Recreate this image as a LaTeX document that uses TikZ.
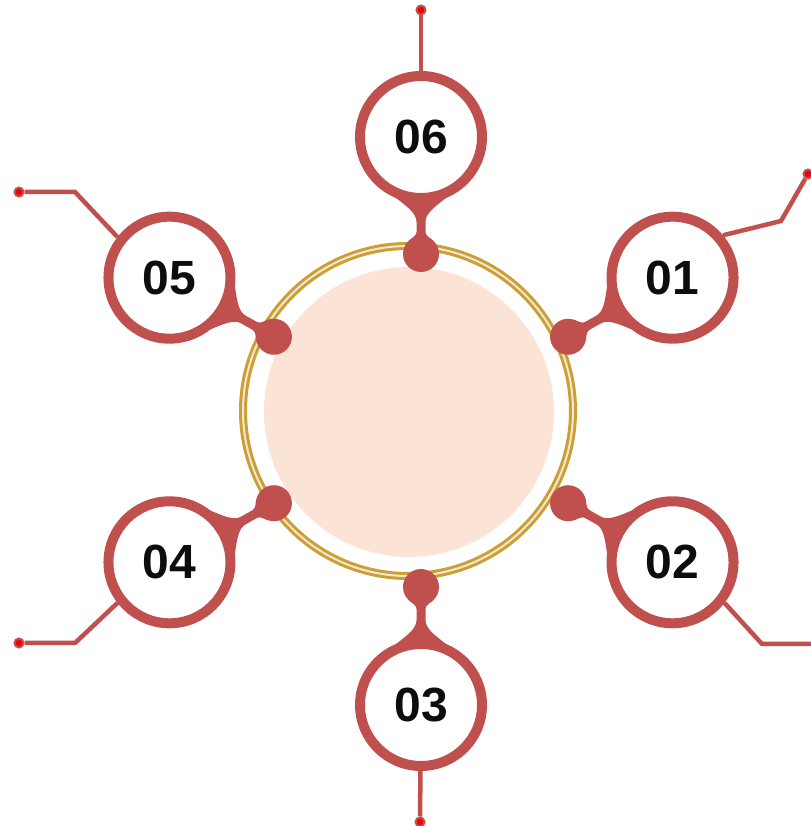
\documentclass[tikz,border=0pt]{standalone}
\usepackage{fontspec}
\setmainfont{Liberation Sans}
\usetikzlibrary{calc}

\definecolor{leadred}{HTML}{C0504D}
\definecolor{ringgold}{HTML}{C9A032}
\definecolor{peach}{HTML}{FBE4D6}
\definecolor{tipred}{HTML}{F00000}

\tikzset{
    numcircle/.style={circle, draw=leadred, line width=10pt, fill=white,
        minimum size=122pt, inner sep=0pt, text=black!95,
        font=\fontsize{48}{48}\selectfont\bfseries},
    hubdot/.style={circle, fill=leadred, minimum size=36pt, inner sep=0pt},
    tipdot/.style={circle, draw=leadred, fill=tipred, line width=2pt,
        minimum size=9pt, inner sep=0pt},
    lead/.style={leadred, line width=4.5pt, line join=miter},
}

\begin{document}
\begin{tikzpicture}[x=1pt, y=1pt]
    \useasboundingbox (0,0) rectangle (810,826);
    \coordinate (O) at (421,406);

    % Centre disc and gold ring
    \fill[peach] (409,414) circle (145);
    \draw[ringgold, line width=3pt, double=peach, double distance=2pt] (408,415) circle (165);

    % Necks, hub dots and numbered circles
    \foreach \ang/\dist/\h/\lbl in {29.5/289/169/01, -29.5/289/169/02, -90/285/167/03,
                                    -150.5/289/169/04, 150.5/289/169/05, 90/283/166/06} {
        \begin{scope}[shift={(O)}, rotate=\ang]
            \fill[leadred] (\h+12.9,12.5) .. controls (\h+16,9.5) and (\h+18,4.5) .. (\h+22,4.5)
                -- (\dist-85,4.5) .. controls (\dist-77,4.5) and (\dist-71,12) .. (\dist-61,25)
                -- (\dist-61,-25) .. controls (\dist-71,-12) and (\dist-77,-4.5) .. (\dist-85,-4.5)
                -- (\h+22,-4.5) .. controls (\h+18,-4.5) and (\h+16,-9.5) .. (\h+12.9,-12.5) -- cycle;
        \end{scope}
        \node[hubdot] (h\lbl) at ($(O)+(\ang:\h)$) {};
        \node[numcircle] (n\lbl) at ($(O)+(\ang:\dist)$) {\lbl};
    }

    % Lead ends
    \node[tipdot] (e06) at (421,816) {};
    \node[tipdot] (e01) at (808,652) {};
    \node[tipdot] (e03) at (420,4) {};
    \node[tipdot] (e04) at (19,183) {};
    \node[tipdot] (e05) at (19,634) {};
    \coordinate (e02) at (816,182);
    \coordinate (k01) at (781,605);
    \coordinate (k02) at (762,182);
    \coordinate (k04) at (75,183);
    \coordinate (k05) at (75,634);

    % Leads
    \draw[lead] (n06) -- (e06);
    \draw[lead] (n01.40) -- (k01) -- (e01);
    \draw[lead] (n02.-38) -- (k02) -- (e02);
    \draw[lead] (n03) -- (e03);
    \draw[lead] (n04.218) -- (k04) -- (e04);
    \draw[lead] (n05.142) -- (k05) -- (e05);
\end{tikzpicture}
\end{document}
